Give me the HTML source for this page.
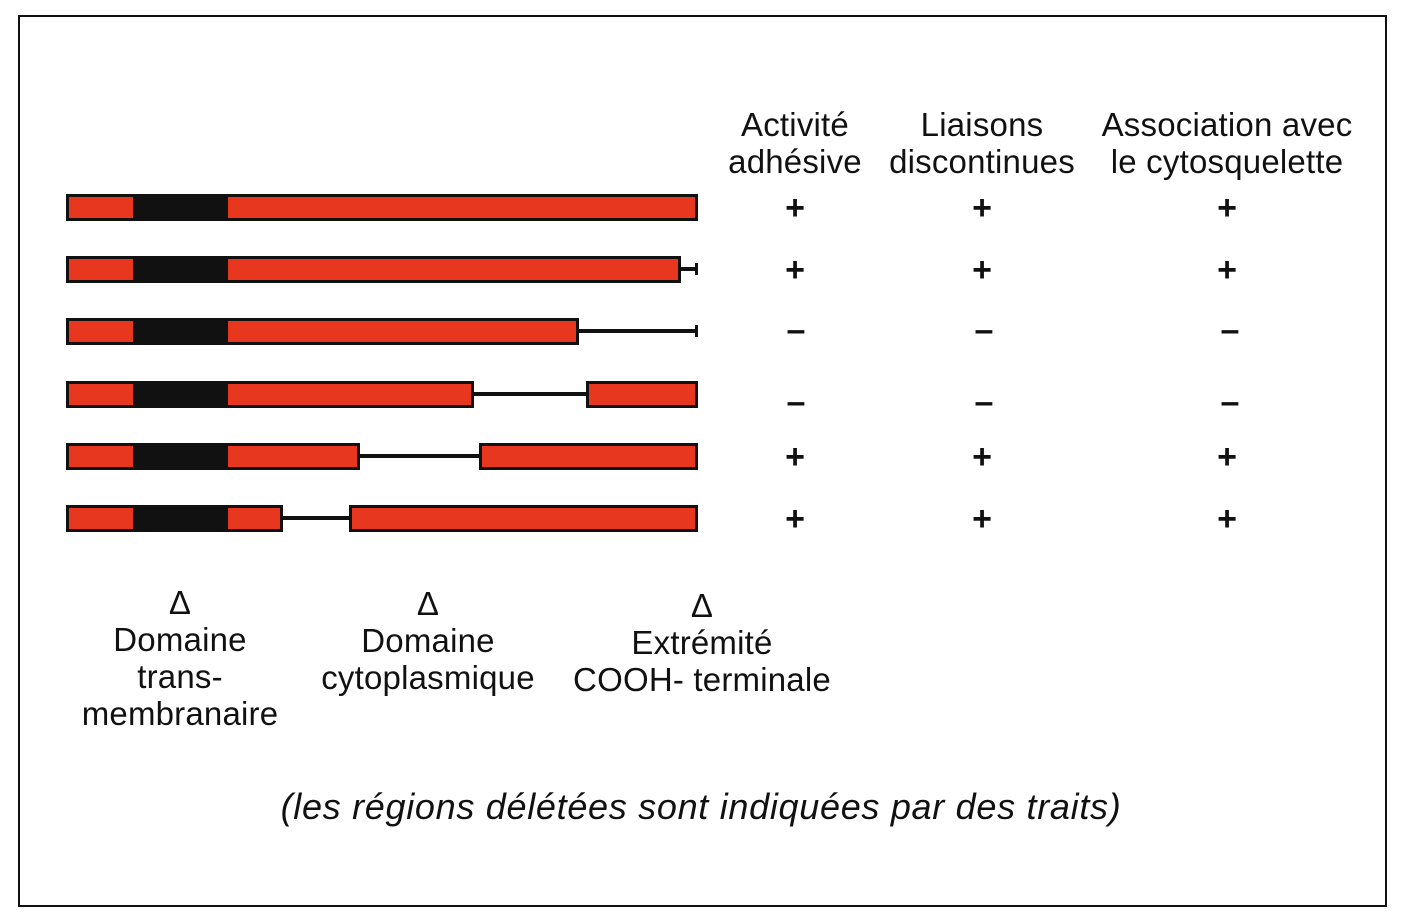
<!DOCTYPE html>
<html><head><meta charset="utf-8"><style>
body{margin:0;width:1409px;height:920px;background:#fff;position:relative;overflow:hidden;font-family:"Liberation Sans",sans-serif;color:#111}
.frame{position:absolute;left:18px;top:15px;width:1365px;height:888px;border:2px solid #111}
.b{position:absolute;height:21px;border:3px solid #111;background:#e8371f;box-sizing:content-box}
.k{position:absolute;height:27px;background:#111}
.l{position:absolute;height:4px;background:#111}
.t{position:absolute;font-size:33px;text-align:center;line-height:37px;transform:translateX(-50%);white-space:nowrap;letter-spacing:0.2px}
.s{position:absolute;font-size:34px;transform:translate(-50%,-50%);line-height:34px;font-weight:bold}
</style></head><body>
<div class="frame"></div>
<div class="t" style="left:795px;top:106px">Activité<br>adhésive</div>
<div class="t" style="left:982px;top:106px">Liaisons<br>discontinues</div>
<div class="t" style="left:1227px;top:106px">Association avec<br>le cytosquelette</div>

<div class="b" style="left:66px;top:194px;width:626px"></div><div class="k" style="left:133px;top:194px;width:95px"></div>
<div class="b" style="left:66px;top:256px;width:609px"></div><div class="k" style="left:133px;top:256px;width:95px"></div>
<div class="l" style="left:681px;top:267px;width:16px"></div><div class="l" style="left:695px;top:263px;width:3px;height:12px"></div>
<div class="b" style="left:66px;top:318px;width:507px"></div><div class="k" style="left:133px;top:318px;width:95px"></div>
<div class="l" style="left:579px;top:329px;width:118px"></div><div class="l" style="left:695px;top:325px;width:3px;height:12px"></div>
<div class="b" style="left:66px;top:381px;width:402px"></div><div class="k" style="left:133px;top:381px;width:95px"></div>
<div class="l" style="left:473px;top:392px;width:114px"></div>
<div class="b" style="left:586px;top:381px;width:106px"></div>
<div class="b" style="left:66px;top:443px;width:288px"></div><div class="k" style="left:133px;top:443px;width:95px"></div>
<div class="l" style="left:359px;top:454px;width:122px"></div>
<div class="b" style="left:479px;top:443px;width:213px"></div>
<div class="b" style="left:66px;top:505px;width:211px"></div><div class="k" style="left:133px;top:505px;width:95px"></div>
<div class="l" style="left:282px;top:516px;width:69px"></div>
<div class="b" style="left:349px;top:505px;width:343px"></div>

<div class="s" style="left:795px;top:208px">+</div><div class="s" style="left:982px;top:208px">+</div><div class="s" style="left:1227px;top:208px">+</div>
<div class="s" style="left:795px;top:270px">+</div><div class="s" style="left:982px;top:270px">+</div><div class="s" style="left:1227px;top:270px">+</div>
<div class="s" style="left:796px;top:330px">–</div><div class="s" style="left:984px;top:330px">–</div><div class="s" style="left:1230px;top:330px">–</div>
<div class="s" style="left:796px;top:402px">–</div><div class="s" style="left:984px;top:402px">–</div><div class="s" style="left:1230px;top:402px">–</div>
<div class="s" style="left:795px;top:457px">+</div><div class="s" style="left:982px;top:457px">+</div><div class="s" style="left:1227px;top:457px">+</div>
<div class="s" style="left:795px;top:519px">+</div><div class="s" style="left:982px;top:519px">+</div><div class="s" style="left:1227px;top:519px">+</div>

<div class="t" style="left:180px;top:584px">Δ<br>Domaine<br>trans-<br>membranaire</div>
<div class="t" style="left:428px;top:585px">Δ<br>Domaine<br>cytoplasmique</div>
<div class="t" style="left:702px;top:587px">Δ<br>Extrémité<br>COOH- terminale</div>

<div class="t" style="left:701px;top:788px;font-style:italic;font-size:36px;letter-spacing:0.7px">(les régions délétées sont indiquées par des traits)</div>
</body></html>
